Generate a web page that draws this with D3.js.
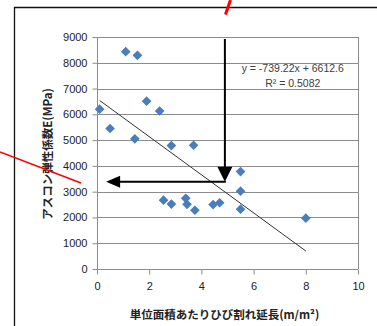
<!DOCTYPE html>
<html>
<head>
<meta charset="utf-8">
<script src="https://cdn.jsdelivr.net/npm/d3@7"></script>
<style>
  body { margin: 0; background: #fff; }
  svg { display: block; }
</style>
</head>
<body>
<div id="chart"></div>
<script>
// crack length per unit area (m/m2) vs asphalt modulus E (MPa)
const crackLen = [0.1, 0.5, 1.1, 1.55, 1.45, 1.9, 2.4, 2.85, 3.7, 2.55, 2.85, 3.4, 3.45, 3.75, 4.45, 4.7, 5.5, 5.5, 5.5, 8.0];
const modulus  = [6200, 5450, 8430, 8290, 5050, 6510, 6130, 4790, 4800, 2670, 2520, 2740, 2510, 2280, 2500, 2570, 3780, 3020, 2320, 1970];
const xTicks = [0, 2, 4, 6, 8, 10];
const yTicks = [0, 1000, 2000, 3000, 4000, 5000, 6000, 7000, 8000, 9000];
const slope = -739.22, intercept = 6612.6;
const eqText = ["y = -739.22x + 6612.6", "R² = 0.5082"];
const xTitle = "単位面積あたりひび割れ延長(m/m²)";
const yTitle = "アスコン弾性係数E(MPa)";
// arrow annotation in data units
const arrowX = 4.9, arrowY = 3380, arrowEndX = 0.35;

const W = 377, H = 326;
const margin = {top: 37, right: 19, bottom: 57, left: 97};
const width = W - margin.left - margin.right,
      height = H - margin.top - margin.bottom;

const root = d3.select("#chart").append("svg")
  .attr("width", W).attr("height", H);

// outer chart border (left + top)
root.append("path")
  .attr("d", "M14.5,326 V7.5 H377")
  .attr("fill", "none").attr("stroke", "#111").attr("stroke-width", 1.3);

const svg = root.append("g")
  .attr("transform", `translate(${margin.left},${margin.top})`);

const x = d3.scaleLinear().domain([0, 10]).range([0, width]);
const y = d3.scaleLinear().domain([0, 9000]).range([height, 0]);

// gridlines
svg.append("g")
  .selectAll("line")
  .data(yTicks)
  .join("line")
    .attr("x1", 0).attr("x2", width)
    .attr("y1", d => Math.round(y(d)) + 0.5).attr("y2", d => Math.round(y(d)) + 0.5)
    .attr("stroke", "#8c8c8c").attr("stroke-width", 1);

// plot border right
svg.append("line")
  .attr("x1", width + 0.5).attr("x2", width + 0.5)
  .attr("y1", 0).attr("y2", height)
  .attr("stroke", "#8c8c8c");

// axes
const xAxis = svg.append("g")
  .attr("transform", `translate(0,${Math.round(height) + 0.5})`)
  .call(d3.axisBottom(x).tickValues(xTicks).tickFormat(d3.format("d")).tickSize(5).tickPadding(8));
const yAxis = svg.append("g")
  .attr("transform", "translate(0.5,0)")
  .call(d3.axisLeft(y).tickValues(yTicks).tickFormat(d3.format("d")).tickSize(5).tickPadding(5));

[xAxis, yAxis].forEach(a => {
  a.selectAll("path, line").attr("stroke", "#8c8c8c");
  a.select(".domain").attr("d", a === xAxis ? `M0,0H${width}` : `M0,0V${height}`);
  a.selectAll("text")
    .attr("fill", "#222")
    .style("font-family", "'Liberation Sans', Arial, sans-serif")
    .style("font-size", "11px");
});

// trendline over data range
const xMin = d3.min(crackLen), xMax = d3.max(crackLen);
svg.append("line")
  .attr("x1", x(xMin)).attr("y1", y(slope * xMin + intercept))
  .attr("x2", x(xMax)).attr("y2", y(slope * xMax + intercept))
  .attr("stroke", "#333").attr("stroke-width", 1);

// points
svg.append("g")
  .selectAll("path")
  .data(crackLen.map((d, i) => [d, modulus[i]]))
  .join("path")
    .attr("transform", d => `translate(${x(d[0])},${y(d[1])})`)
    .attr("d", d3.symbol(d3.symbolDiamond2, 60))
    .attr("fill", "#4a7ebb");

// equation
svg.append("g")
  .selectAll("text")
  .data(eqText)
  .join("text")
    .attr("x", x(7.5))
    .attr("y", (d, i) => 35 + i * 15)
    .attr("text-anchor", "middle")
    .attr("fill", "#404040")
    .style("font-family", "'Liberation Sans Narrow', 'Liberation Sans', Arial, sans-serif")
    .style("font-size", "10.5px")
    .text(d => d);

// arrows
const ax = x(arrowX), ay = y(arrowY), ex = x(arrowEndX);
svg.append("line")
  .attr("x1", ax).attr("x2", ax).attr("y1", 2).attr("y2", ay - 10)
  .attr("stroke", "#000").attr("stroke-width", 2);
svg.append("path")
  .attr("d", `M${ax - 7.5},${ay - 15}L${ax + 7.5},${ay - 15}L${ax},${ay}Z`)
  .attr("fill", "#000");
svg.append("line")
  .attr("x1", ax + 1).attr("x2", ex + 10).attr("y1", ay).attr("y2", ay)
  .attr("stroke", "#000").attr("stroke-width", 2);
svg.append("path")
  .attr("d", `M${ex + 14},${ay - 6}L${ex + 14},${ay + 6}L${ex},${ay}Z`)
  .attr("fill", "#000");

// axis titles
root.append("text")
  .attr("x", margin.left + width / 2 - 3)
  .attr("y", 319)
  .attr("text-anchor", "middle")
  .attr("fill", "#222")
  .style("font-family", "'Noto Sans CJK JP', sans-serif")
  .style("font-weight", "bold")
  .style("font-size", "11.5px")
  .text(xTitle);

root.append("text")
  .attr("transform", "translate(52,154) rotate(-90)")
  .attr("text-anchor", "middle")
  .attr("fill", "#222")
  .style("font-family", "'Noto Sans CJK JP', sans-serif")
  .style("font-weight", "bold")
  .style("font-size", "11.5px")
  .text(yTitle);

// red marker strokes
root.append("line")
  .attr("x1", 230.5).attr("y1", 0).attr("x2", 225.5).attr("y2", 14.5)
  .attr("stroke", "#ff0000").attr("stroke-width", 3);
root.append("line")
  .attr("x1", 0).attr("y1", 152).attr("x2", 81).attr("y2", 183)
  .attr("stroke", "#ff0000").attr("stroke-width", 1.6);
</script>
</body>
</html>
